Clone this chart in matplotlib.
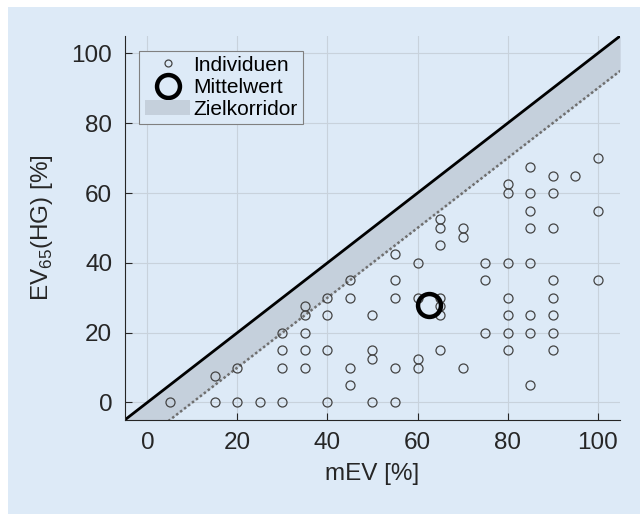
import matplotlib.pyplot as plt
import numpy as np

plt.rcParams['font.family'] = ['Liberation Sans', 'DejaVu Sans']

# individual values (mEV [%], EV65(HG) [%])
mev = [5, 15, 15, 20, 20, 25,
       30, 30, 30, 30,
       35, 35, 35, 35, 35,
       40, 40, 40, 40,
       45, 45, 45, 45,
       50, 50, 50, 50,
       55, 55, 55, 55, 55,
       60, 60, 60, 60,
       65, 65, 65, 65, 65, 65, 65,
       70, 70, 70,
       75, 75, 75,
       80, 80, 80, 80, 80, 80, 80,
       85, 85, 85, 85, 85, 85, 85, 85,
       90, 90, 90, 90, 90, 90, 90, 90,
       95,
       100, 100, 100]
ev65 = [0, 0, 7.5, 0, 10, 0,
        0, 10, 15, 20,
        10, 15, 20, 25, 27.5,
        0, 15, 25, 30,
        5, 10, 30, 35,
        0, 12.5, 15, 25,
        0, 10, 30, 35, 42.5,
        10, 12.5, 30, 40,
        15, 25, 27.5, 30, 45, 50, 52.5,
        10, 47.5, 50,
        20, 35, 40,
        15, 20, 25, 30, 40, 60, 62.5,
        5, 20, 25, 40, 50, 55, 60, 67.5,
        15, 20, 25, 30, 35, 50, 60, 65,
        65,
        35, 55, 70]
mean_mev, mean_ev65 = 62.5, 28

# target corridor: EV65 between mEV-10 and mEV
corridor_x = np.array([-5, 105])
corridor_width = 10

bg = '#ddeaf7'
fig = plt.figure(figsize=(6.4, 5.14), dpi=100)
fig.patch.set_facecolor('white')
fig.patches.append(plt.Rectangle((8/640, 0), 1, 1 - 7/514, transform=fig.transFigure,
                                 facecolor=bg, edgecolor='none', zorder=-10))
ax = fig.add_axes([0.195, 0.183, 0.774, 0.747])
ax.set_facecolor(bg)

ax.fill_between(corridor_x, corridor_x - corridor_width, corridor_x,
                color='#c5d0dc', linewidth=0, label='Zielkorridor', zorder=1)
ax.plot(corridor_x, corridor_x, color='black', lw=2, zorder=2)
ax.plot(corridor_x, corridor_x - corridor_width, color='#6e6e6e', lw=1.8,
        linestyle=(0, (1, 1)), zorder=2)

ax.plot(mev, ev65, 'o', ms=6.5, mfc='none', mec='#444444', mew=0.9,
        label='Individuen', zorder=3)
ax.plot(mean_mev, mean_ev65, 'o', ms=16.5, mfc='none', mec='black', mew=3.2,
        label='Mittelwert', zorder=4)

ax.set_xlim(-5, 105)
ax.set_ylim(-5, 105)
ax.set_xticks(range(0, 101, 20))
ax.set_yticks(range(0, 101, 20))
ax.grid(True, color='#c8d2dc', lw=0.8)
ax.set_axisbelow(True)
for s in ['top', 'right']:
    ax.spines[s].set_visible(False)
for s in ['left', 'bottom']:
    ax.spines[s].set_color('#262626')
ax.tick_params(direction='in', length=5, labelsize=17.5, colors='#262626', pad=9)

ax.set_xlabel('mEV [%]', fontsize=17.5, color='#262626', labelpad=6)
ax.set_ylabel(r'EV$_{\mathregular{65}}$(HG) [%]', fontsize=17.5, color='#262626',
              labelpad=12)

handles, labels = ax.get_legend_handles_labels()
order = [labels.index(l) for l in ['Individuen', 'Mittelwert', 'Zielkorridor']]
leg = ax.legend([handles[i] for i in order], [labels[i] for i in order],
                loc='upper left', fontsize=15, fancybox=False, framealpha=1,
                facecolor=bg, edgecolor='#808080', handlelength=2.2,
                handletextpad=0.15, borderpad=0.25, labelspacing=0.15,
                borderaxespad=0.7)
leg.get_frame().set_linewidth(0.8)
leg.legend_handles[0].set_markersize(5)

fig.savefig('out.png', dpi=100)
